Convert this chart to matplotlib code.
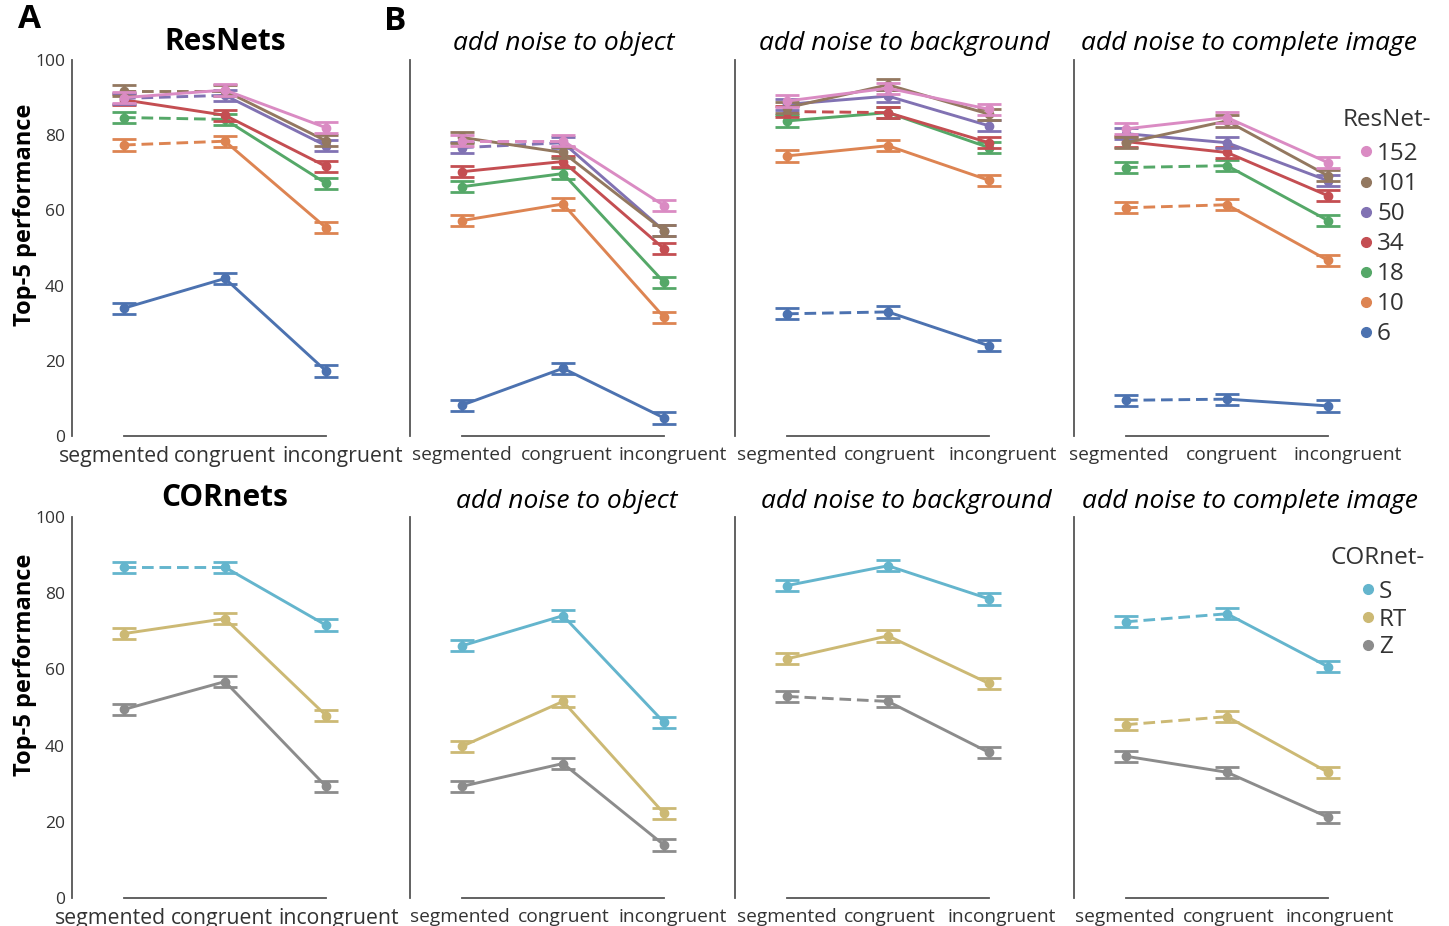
import matplotlib.pyplot as plt
import matplotlib.transforms as mtransforms
from matplotlib.lines import Line2D

plt.rcParams['font.family'] = 'Open Sans'

W, H = 1449, 926

conds = ['segmented', 'congruent', 'incongruent']

# ResNets, shallow -> deep
res_names = ['6', '10', '18', '34', '50', '101', '152']
res_colors = ['#4C72B0', '#DD8452', '#55A868', '#C44E52', '#8172B3', '#937860', '#DA8BC3']

res_clean = [[34.0, 41.9, 17.3], [77.4, 78.4, 55.4], [84.7, 84.2, 67.2], [89.4, 85.3, 71.7],
             [89.8, 90.6, 77.2], [91.8, 91.8, 78.5], [90.0, 92.0, 82.0]]
res_clean_dash = [0, 1, 1, 0, 1, 1, 0]

res_obj = [[8.2, 18.0, 4.8], [57.3, 61.7, 31.6], [66.3, 69.8, 40.9], [70.3, 73.0, 49.8],
           [76.7, 78.0, 54.6], [79.4, 75.4, 54.6], [78.5, 78.5, 61.3]]
res_obj_dash = [0, 0, 0, 0, 1, 0, 1]

res_bg = [[32.5, 33.0, 24.0], [74.5, 77.2, 68.0], [83.8, 86.0, 76.7], [86.3, 86.0, 78.0],
          [88.2, 90.4, 82.5], [87.3, 93.4, 85.6], [89.1, 92.5, 86.9]]
res_bg_dash = [1, 0, 0, 1, 0, 0, 0]

res_full = [[9.5, 9.8, 8.0], [60.7, 61.5, 46.7], [71.4, 71.9, 57.3], [78.3, 75.4, 63.9],
            [80.4, 78.0, 67.9], [78.0, 83.8, 69.2], [81.7, 84.7, 72.7]]
res_full_dash = [1, 1, 1, 0, 0, 0, 0]

# CORnets
cor_names = ['Z', 'RT', 'S']
cor_colors = ['#8C8C8C', '#CCB974', '#64B5CD']

cor_clean = [[49.5, 56.8, 29.3], [69.4, 73.3, 47.9], [86.8, 86.8, 71.6]]
cor_clean_dash = [0, 0, 1]

cor_obj = [[29.3, 35.3, 13.9], [39.8, 51.6, 22.2], [66.2, 74.1, 46.1]]
cor_obj_dash = [0, 0, 0]

cor_bg = [[52.9, 51.6, 38.2], [62.8, 68.8, 56.3], [82.0, 87.2, 78.5]]
cor_bg_dash = [1, 0, 0]

cor_full = [[37.2, 33.0, 21.2], [45.5, 47.6, 33.0], [72.5, 74.6, 60.7]]
cor_full_dash = [0, 1, 1]

err = 1.5

titles = ['add noise to object', 'add noise to background', 'add noise to complete image']

fig = plt.figure(figsize=(W / 100, H / 100), dpi=100)

spine_x = [72, 410, 735, 1074]
rows = [(436, 60), (898, 517)]
# small horizontal nudges (px) of the category labels, as in the original layout
lab_shift = [[[-10, 0, 17], [0, 4, 9], [0, 2, 14], [-7, 5, 20]],
             [[-14, -3, 13], [-2, 1, 9], [0, 2, 13], [-1, 2, 12]]]


def make_ax(x0, y0, y100):
    ax = fig.add_axes([x0 / W, 1 - y0 / H, 3.115 * 101 / W, (y0 - y100) / H])
    ax.set_xlim(-0.515, 2.6)
    ax.set_ylim(0, 100)
    ax.spines[['top', 'right']].set_visible(False)
    for s in ['left', 'bottom']:
        ax.spines[s].set_color('#555555')
        ax.spines[s].set_linewidth(1.3)
    ax.spines['bottom'].set_bounds(0, 2)
    ax.spines['left'].set_bounds(0, 100)
    ax.set_xticks(range(3))
    ax.set_xticklabels(conds)
    ax.tick_params(length=0, pad=7, colors='#333333')
    ax.patch.set_alpha(0)
    return ax


def draw(ax, data, dash, colors):
    x = [0, 1, 2]
    for vals, d, c in zip(data, dash, colors):
        if d:
            ax.plot(x[:2], vals[:2], color=c, lw=2.1, ls='--', dashes=(4, 2))
        else:
            ax.plot(x[:2], vals[:2], color=c, lw=2.1)
        ax.plot(x[1:], vals[1:], color=c, lw=2.1)
        ax.errorbar(x, vals, yerr=err, fmt='none', ecolor=c, elinewidth=2,
                    capsize=8.5, capthick=2)
        ax.plot(x, vals, 'o', color=c, ms=6)


top_sets = [(res_clean, res_clean_dash), (res_obj, res_obj_dash),
            (res_bg, res_bg_dash), (res_full, res_full_dash)]
bot_sets = [(cor_clean, cor_clean_dash), (cor_obj, cor_obj_dash),
            (cor_bg, cor_bg_dash), (cor_full, cor_full_dash)]

for r, (sets, colors) in enumerate([(top_sets, res_colors), (bot_sets, cor_colors)]):
    y0, y100 = rows[r]
    for i, (data, dash) in enumerate(sets):
        ax = make_ax(spine_x[i], y0, y100)
        draw(ax, data, dash, colors)
        if i == 0:
            ax.set_yticks(range(0, 101, 20))
            ax.tick_params(axis='y', labelsize=12.5, pad=5)
            ax.tick_params(axis='x', labelsize=15.3)
        else:
            ax.set_yticks([])
            ax.tick_params(axis='x', labelsize=13.8)
        for lab, dx in zip(ax.get_xticklabels(), lab_shift[r][i]):
            lab.set_transform(lab.get_transform() +
                              mtransforms.ScaledTranslation(dx / 100, 0, fig.dpi_scale_trans))

# y labels
for yc in [215, 665]:
    fig.text(25 / W, 1 - yc / H, 'Top-5 performance', rotation=90, ha='center', va='center',
             fontsize=17, fontweight='bold')

# legends
res_handles = [Line2D([], [], marker='o', ls='none', color=c, ms=7) for c in res_colors[::-1]]
leg1 = fig.legend(res_handles, res_names[::-1], loc='upper left',
                  bbox_to_anchor=(1360 / W, 1 - 142 / H), frameon=False, fontsize=17.5,
                  handlelength=0.5, handletextpad=0.2, labelspacing=0.25,
                  borderpad=0, borderaxespad=0)
fig.text(1343 / W, 1 - 120 / H, 'ResNet-', ha='left', va='center', fontsize=17.5, color='#333333')

cor_handles = [Line2D([], [], marker='o', ls='none', color=c, ms=7) for c in cor_colors[::-1]]
leg2 = fig.legend(cor_handles, cor_names[::-1], loc='upper left',
                  bbox_to_anchor=(1362 / W, 1 - 580 / H), frameon=False, fontsize=17.5,
                  handlelength=0.5, handletextpad=0.2, labelspacing=0.15,
                  borderpad=0, borderaxespad=0)
fig.text(1331 / W, 1 - 558 / H, 'CORnet-', ha='left', va='center', fontsize=17.5, color='#333333')
for leg in [leg1, leg2]:
    for t in leg.get_texts():
        t.set_color('#333333')

# panel titles
fig.text(225 / W, 1 - 42 / H, 'ResNets', ha='center', va='center', fontsize=21.5, fontweight='bold')
fig.text(225 / W, 1 - 498 / H, 'CORnets', ha='center', va='center', fontsize=21.5, fontweight='bold')
for cx, t in zip([564, 904, 1249], titles):
    fig.text(cx / W, 1 - 43 / H, t, ha='center', va='center', fontsize=19, style='italic')
for cx, t in zip([567, 906, 1250], titles):
    fig.text(cx / W, 1 - 501 / H, t, ha='center', va='center', fontsize=19, style='italic')

fig.text(29 / W, 1 - 20 / H, 'A', ha='center', va='center', fontsize=24, fontweight='bold')
fig.text(395 / W, 1 - 22 / H, 'B', ha='center', va='center', fontsize=24, fontweight='bold')

fig.savefig('out.png', dpi=100)
